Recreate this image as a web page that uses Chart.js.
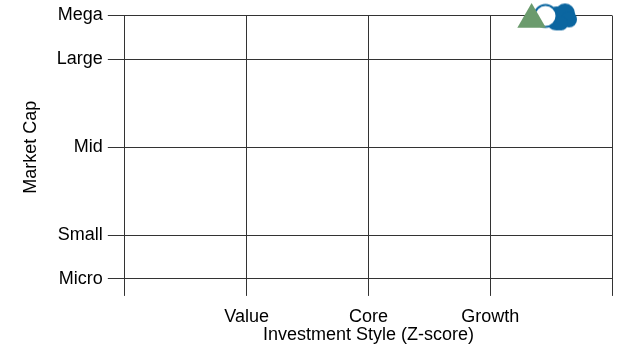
<!DOCTYPE html>
<html>
<head>
<meta charset="utf-8">
<script src="https://cdn.jsdelivr.net/npm/chart.js@4"></script>
<style>
  html, body { margin: 0; padding: 0; background: #fff; }
  #wrap { width: 620px; height: 348px; }
</style>
</head>
<body>
<div id="wrap"><canvas id="style-chart"></canvas></div>
<script>
// style box values
var styleTicks = [-2, -1, 0, 1, 2];
var styleLabels = ["", "Value", "Core", "Growth", ""];
var capTicks = [0, 1, 3, 5, 6];
var capLabels = ["Micro", "Small", "Mid", "Large", "Mega"];

var seriesNames = ["Portfolio", "Benchmark"];
var seriesStyle = [1.34, 1.54];
var seriesCap = [5.91, 5.98];

var lineColor = "#333333";
var fontFamily = "Arial, 'Liberation Sans', sans-serif";
var font = { family: fontFamily, size: 18, lineHeight: 1.1 };
// taller line box pushes the x labels down without widening the right padding
var xTickFont = { family: fontFamily, size: 18, lineHeight: 1.444 };

// cloud marker drawn on a small canvas, used as the point style
function makeCloud() {
	var c = document.createElement("canvas");
	c.width = 46;
	c.height = 30;
	var ctx = c.getContext("2d");
	ctx.fillStyle = "#0b66a0";
	[[24, 17, 12], [32, 12, 10], [36, 18, 8], [28, 22, 7]].forEach(function (p) {
		ctx.beginPath();
		ctx.arc(p[0], p[1], p[2], 0, Math.PI * 2);
		ctx.fill();
	});
	ctx.beginPath();
	ctx.arc(12.5, 14.5, 11, 0, Math.PI * 2);
	ctx.fillStyle = "#ffffff";
	ctx.fill();
	ctx.lineWidth = 2;
	ctx.strokeStyle = "#0b66a0";
	ctx.stroke();
	return c;
}

var chart = new Chart(document.querySelector("#style-chart"), {
	type: "scatter",
	data: {
		datasets: [
			{
				label: seriesNames[0],
				data: [{ x: seriesStyle[0], y: seriesCap[0] }],
				pointStyle: "triangle",
				pointRadius: 16.5,
				backgroundColor: "#6b9b6d",
				borderWidth: 0,
				clip: false
			},
			{
				label: seriesNames[1],
				data: [{ x: seriesStyle[1], y: seriesCap[1] }],
				pointStyle: makeCloud(),
				pointRadius: 15,
				clip: false
			}
		]
	},
	options: {
		responsive: true,
		maintainAspectRatio: false,
		animation: false,
		layout: { autoPadding: false, padding: { top: 15.5, right: 8, left: 19, bottom: 2.1 } },
		plugins: {
			legend: { display: false },
			tooltip: { enabled: false }
		},
		scales: {
			x: {
				type: "linear",
				min: -2,
				max: 2,
				afterBuildTicks: function (axis) {
					axis.ticks = styleTicks.map(function (v) { return { value: v }; });
				},
				ticks: {
					color: "#000",
					font: xTickFont,
					padding: 8,
					maxRotation: 0,
					callback: function (v) { return styleLabels[styleTicks.indexOf(v)]; }
				},
				grid: { color: lineColor, tickLength: 17 },
				border: { color: lineColor },
				title: {
					display: true,
					text: "Investment Style (Z-score)",
					color: "#000",
					font: font,
					padding: { top: -12.8, bottom: 1 }
				}
			},
			y: {
				type: "linear",
				min: 0,
				max: 6,
				afterBuildTicks: function (axis) {
					axis.ticks = capTicks.map(function (v) { return { value: v }; });
				},
				ticks: {
					color: "#000",
					font: font,
					padding: 5,
					callback: function (v) { return capLabels[capTicks.indexOf(v)]; }
				},
				grid: { color: lineColor, tickLength: 17 },
				border: { color: lineColor },
				title: {
					display: true,
					text: "Market Cap",
					color: "#000",
					font: font,
					padding: { top: 2, bottom: 11 }
				}
			}
		}
	}
});
</script>
</body>
</html>
